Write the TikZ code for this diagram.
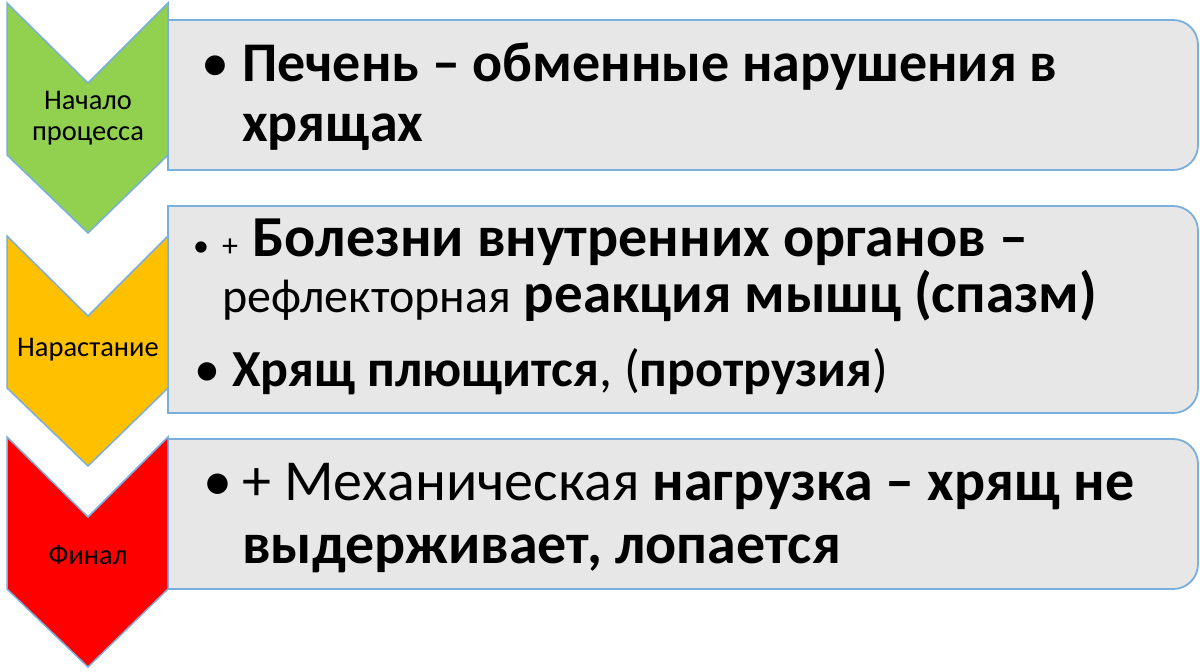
\documentclass[tikz,border=0pt]{standalone}
\usepackage{fontspec}
\setmainfont{Carlito}
\definecolor{cgreen}{HTML}{92D050}
\definecolor{cyellow}{HTML}{FFC000}
\definecolor{cred}{HTML}{FF0000}
\definecolor{cline}{HTML}{7AAEDD}
\definecolor{cbox}{HTML}{E7E7E7}
\tikzset{
  chev/.style={draw=cline, line width=1.5pt, line join=miter},
  boxshape/.style={draw=cline, line width=1.8pt, fill=cbox},
  chevtext/.style={font=\fontsize{28.5}{31}\selectfont, align=center, inner sep=0pt},
  txtA/.style={anchor=base west, inner sep=0pt, font=\fontsize{56}{66}\selectfont},
  txtB/.style={anchor=base west, inner sep=0pt, font=\fontsize{58}{68}\selectfont},
  txtBb/.style={anchor=base west, inner sep=0pt, font=\fontsize{57}{68}\selectfont},
  txtBc/.style={anchor=base west, inner sep=0pt, font=\fontsize{52}{62}\selectfont},
  txtC/.style={anchor=base west, inner sep=0pt, font=\fontsize{58}{68}\selectfont},
  plusB/.style={anchor=base west, inner sep=0pt, font=\fontsize{32}{38}\selectfont},
}
\newcommand{\smallnorm}[1]{{\fontsize{48}{56}\selectfont #1}}
\begin{document}
\begin{tikzpicture}[x=1pt,y=-1pt]
\useasboundingbox (0,0) rectangle (1200,672);
% boxes
\draw[boxshape] (168,170) -- (168,20) -- (1173,20) .. controls (1187,20) and (1198,31) .. (1198,45) -- (1198,145) .. controls (1198,159) and (1187,170) .. (1173,170) -- cycle;
\draw[boxshape] (168,413) -- (168,206) -- (1173,206) .. controls (1187,206) and (1198,217) .. (1198,231) -- (1198,388) .. controls (1198,402) and (1187,413) .. (1173,413) -- cycle;
\draw[boxshape] (168,589) -- (168,439) -- (1173,439) .. controls (1187,439) and (1198,450) .. (1198,464) -- (1198,564) .. controls (1198,578) and (1187,589) .. (1173,589) -- cycle;
% chevrons
\draw[chev, fill=cgreen] (7,3) -- (88,83) -- (168,3) -- (168,155) -- (88,233) -- (7,155) -- cycle;
\draw[chev, fill=cyellow] (7,236) -- (88,316) -- (168,236) -- (168,388) -- (88,466) -- (7,388) -- cycle;
\draw[chev, fill=cred] (7,437) -- (88,517) -- (168,437) -- (168,589) -- (88,667) -- (7,589) -- cycle;
\node[chevtext] (c1) at (88,118) {Начало\\процесса};
\node[chevtext] (c2) at (88,350) {Нарастание};
\node[chevtext] (c3) at (88,555) {Финал};
% box 1 text
\node[txtA] (b1) at (201,81) {•};
\node[txtA] (t1a) at (242,81) {\bfseries Печень – обменные нарушения в};
\node[txtA] (t1b) at (242,141) {\bfseries хрящах};
% box 2 text
\node[plusB] (b2) at (193,256) {•};
\node[plusB] (p2) at (222,256) {+};
\node[txtB] (t2a) at (252,256) {\bfseries Болезни внутренних органов –};
\node[txtBb] (t2b) at (222,312) {\smallnorm{рефлекторная} \textbf{реакция мышц (спазм)}};
\node[txtBc] (b3) at (194,386) {•};
\node[txtBc] (t2c) at (232,386) {\textbf{Хрящ плющится}, (\textbf{протрузия})};
% box 3 text
\node[txtC] (b4) at (203,500) {•};
\node[txtC] (t3a) at (242,500) {+ Механическая \textbf{нагрузка – хрящ не}};
\node[txtC] (t3b) at (242,563) {\bfseries выдерживает, лопается};
\end{tikzpicture}
\end{document}
